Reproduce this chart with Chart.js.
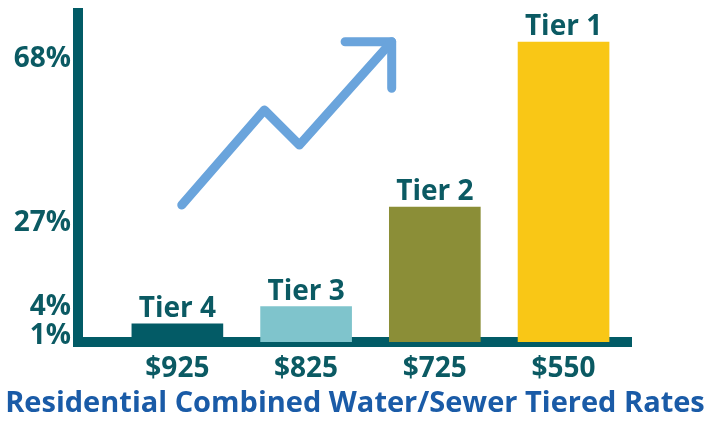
<!DOCTYPE html>
<html>
<head>
<meta charset="utf-8">
<script src="https://cdn.jsdelivr.net/npm/chart.js@4.4.1/dist/chart.umd.min.js"></script>
<style>
  html, body { margin: 0; padding: 0; background: #fff; }
  canvas { display: block; }
</style>
</head>
<body>
<canvas id="tiers" width="710" height="421"></canvas>
<script>
// tiers, left to right
const tiers = ['Tier 4', 'Tier 3', 'Tier 2', 'Tier 1'];
const prices = ['$925', '$825', '$725', '$550'];
const tierPos = [1, 2, 3, 4];
// bar heights as drawn (in the % axis units)
const barValues = [4.4, 8.6, 32.8, 72.9];
const barColors = ['#035b66', '#7fc4cc', '#8b8e37', '#f9c716'];
// % labels on the left axis and where they sit on it
const pctLabels = ['1%', '4%', '27%', '68%'];
const pctAt = [1.5, 8.5, 28.9, 68.8];
// the zigzag arrow
const arrowX = [1.034, 1.676, 1.948, 2.665];
const arrowY = [33.3, 56.4, 47.9, 73.0];
const headX = [2.303, 2.665, 2.665];
const headY = [73.0, 73.0, 61.7];

const teal = '#0b5a63';
const arrowBlue = '#6aa4dc';
const font = 'Open Sans';

const pts = (xs, ys) => xs.map((x, i) => ({x: x, y: ys[i]}));

// "Tier n" above each bar
const tierLabels = {
  id: 'tierLabels',
  afterDatasetsDraw(chart) {
    const ctx = chart.ctx;
    const meta = chart.getDatasetMeta(0);
    ctx.save();
    ctx.font = 'bold 28px "' + font + '"';
    ctx.fillStyle = teal;
    ctx.textAlign = 'center';
    ctx.textBaseline = 'alphabetic';
    meta.data.forEach((bar, i) => {
      ctx.fillText(tiers[i], bar.x, bar.y - 7);
    });
    ctx.restore();
  }
};

new Chart(document.getElementById('tiers'), {
  type: 'bar',
  data: {
    datasets: [
      {
        data: pts(tierPos, barValues),
        backgroundColor: barColors,
        barThickness: 91,
        order: 2
      },
      {
        type: 'line',
        data: pts(arrowX, arrowY),
        borderColor: arrowBlue,
        borderWidth: 9,
        borderCapStyle: 'round',
        borderJoinStyle: 'round',
        pointRadius: 0,
        fill: false,
        order: 1
      },
      {
        type: 'line',
        data: pts(headX, headY),
        borderColor: arrowBlue,
        borderWidth: 9,
        borderCapStyle: 'round',
        borderJoinStyle: 'round',
        pointRadius: 0,
        fill: false,
        order: 1
      }
    ]
  },
  options: {
    responsive: false,
    animation: false,
    devicePixelRatio: 1,
    layout: { padding: { top: 13, right: 0, bottom: 0, left: 0 } },
    plugins: {
      legend: { display: false },
      tooltip: { enabled: false },
      title: {
        display: true,
        position: 'bottom',
        text: 'Residential Combined Water/Sewer Tiered Rates',
        color: '#1a5ba7',
        font: { family: font, size: 29, weight: 'bold' },
        padding: { top: 0, bottom: 0 }
      }
    },
    scales: {
      x: {
        type: 'linear',
        min: 0.228,
        max: 4.524,
        offset: false,
        z: 1,
        grid: { display: false, offset: false },
        border: { display: true, color: '#025b66', width: 10 },
        afterBuildTicks(scale) {
          scale.ticks = tierPos.map(v => ({ value: v }));
        },
        afterFit(scale) {
          scale.height = 44.2;
          scale.paddingLeft = 0;
          scale.paddingRight = 0;
        },
        ticks: {
          autoSkip: false,
          maxRotation: 0,
          padding: 2,
          color: teal,
          font: { family: font, size: 28, weight: 'bold' },
          callback: (v, i) => prices[i]
        }
      },
      y: {
        min: 0,
        max: 80,
        z: 1,
        grid: { display: false },
        border: { display: true, color: '#025b66', width: 10 },
        afterBuildTicks(scale) {
          scale.ticks = pctAt.map(v => ({ value: v }));
        },
        afterFit(scale) {
          scale.width = 78;
          scale.paddingTop = 0;
          scale.paddingBottom = 0;
        },
        ticks: {
          autoSkip: false,
          padding: -1,
          color: teal,
          font: { family: font, size: 28, weight: 'bold' },
          callback: (v, i) => pctLabels[i]
        }
      },
      // empty space on the right, so the bottom title stays centred on the page
      gap: {
        type: 'linear',
        position: 'right',
        grid: { display: false },
        border: { display: false },
        ticks: { display: false },
        afterFit(scale) {
          scale.width = 79;
          scale.paddingTop = 0;
          scale.paddingBottom = 0;
        }
      }
    }
  },
  plugins: [tierLabels]
});
</script>
</body>
</html>
